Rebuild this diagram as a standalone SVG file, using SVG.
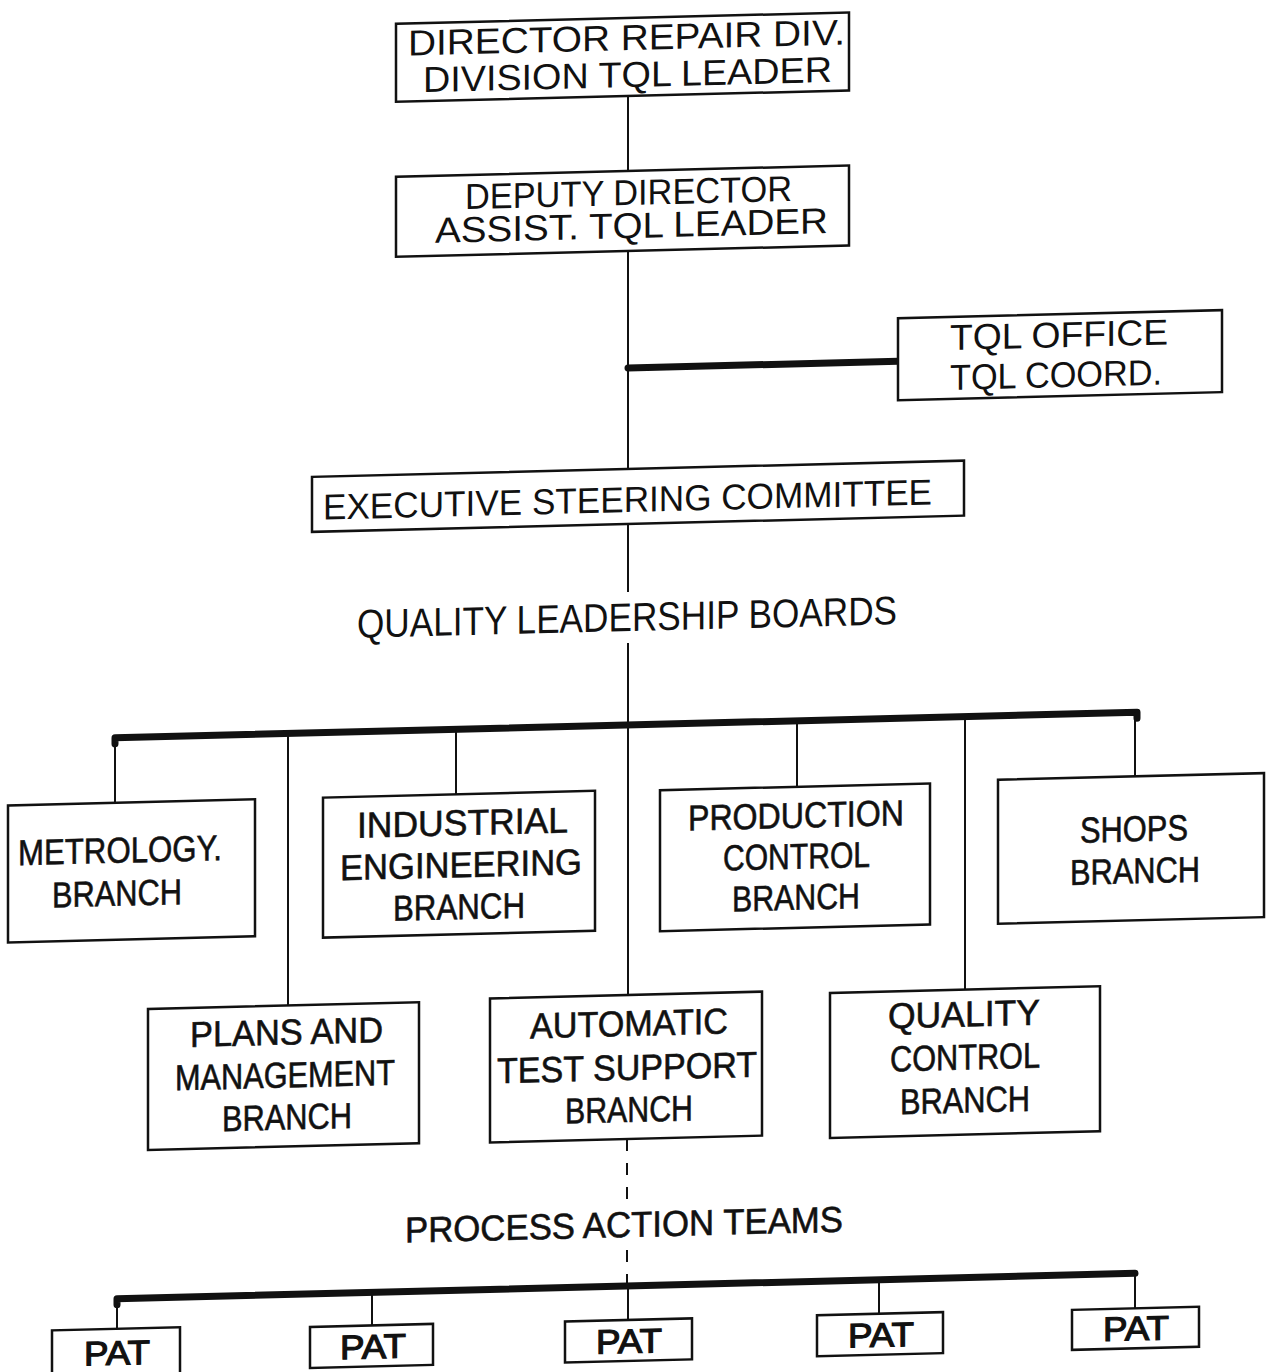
<svg xmlns="http://www.w3.org/2000/svg" width="1266" height="1372" viewBox="0 0 1266 1372">
  <style>
    .box { fill: #fff; stroke: #111; stroke-width: 2.5; }
    .ln { stroke: #111; stroke-width: 2; fill: none; }
    .bar { stroke: #111; stroke-width: 7; fill: none; stroke-linecap: round; stroke-linejoin: round; }
    .dash { stroke: #111; stroke-width: 2; fill: none; stroke-dasharray: 12 12; }
    text { font-family: "Liberation Sans", Arial, sans-serif; font-size: 36px; fill: #111; }
    .br { stroke: #111; stroke-width: 0.6; }
    .lab { font-size: 40px; }
    .pat { font-size: 34px; stroke: #111; stroke-width: 1.2; }
  </style>
  <rect width="1266" height="1372" fill="#fff"/>
  <!-- whole chart sits on a slight slant -->
  <g transform="matrix(1,-0.025,0,1,0,15.7)">
    <g id="connectors">
      <line class="ln" x1="628" y1="96" x2="628" y2="171"/>
      <line class="ln" x1="628" y1="251" x2="628" y2="469"/>
      <line class="bar" x1="628" y1="368" x2="898" y2="368"/>
      <!-- spine breaks around the board label -->
      <line class="ln" x1="628" y1="524" x2="628" y2="592"/>
      <line class="ln" x1="628" y1="643" x2="628" y2="725"/>
      <path class="bar" d="M115,731 V725 H1137 V731"/>
      <line class="ln" x1="115" y1="725" x2="115" y2="790"/>
      <line class="ln" x1="288" y1="725" x2="288" y2="997"/>
      <line class="ln" x1="456" y1="725" x2="456" y2="790"/>
      <line class="ln" x1="628" y1="725" x2="628" y2="995"/>
      <line class="ln" x1="797" y1="725" x2="797" y2="791"/>
      <line class="ln" x1="965" y1="725" x2="965" y2="998"/>
      <line class="ln" x1="1135" y1="725" x2="1135" y2="789"/>
      <!-- dashed link breaks around the team label -->
      <line class="dash" x1="627" y1="1139" x2="627" y2="1200"/>
      <line class="dash" x1="627" y1="1250" x2="627" y2="1286"/>
      <line class="ln" x1="628" y1="1286" x2="628" y2="1320"/>
      <path class="bar" d="M117,1292 V1286 H1135"/>
      <line class="ln" x1="117" y1="1286" x2="117" y2="1316"/>
      <line class="ln" x1="372" y1="1286" x2="372" y2="1319"/>
      <line class="ln" x1="879" y1="1286" x2="879" y2="1320"/>
      <line class="ln" x1="1135" y1="1286" x2="1135" y2="1321"/>
    </g>

    <g id="director">
      <rect class="box" x="396" y="18" width="453" height="78"/>
      <text x="408" y="50" textLength="437" lengthAdjust="spacingAndGlyphs">DIRECTOR REPAIR DIV.</text>
      <text x="423" y="87" textLength="409" lengthAdjust="spacingAndGlyphs">DIVISION TQL LEADER</text>
    </g>
    <g id="deputy">
      <rect class="box" x="396" y="171" width="453" height="80"/>
      <text x="465" y="205" textLength="327" lengthAdjust="spacingAndGlyphs">DEPUTY DIRECTOR</text>
      <text x="435" y="238" textLength="393" lengthAdjust="spacingAndGlyphs">ASSIST. TQL LEADER</text>
    </g>
    <g id="tql-office">
      <rect class="box" x="898" y="325" width="324" height="82"/>
      <text x="950" y="358" textLength="218" lengthAdjust="spacingAndGlyphs">TQL OFFICE</text>
      <text x="950" y="398" textLength="212" lengthAdjust="spacingAndGlyphs">TQL COORD.</text>
    </g>
    <g id="executive">
      <rect class="box" x="312" y="469" width="652" height="55"/>
      <text x="323" y="512" textLength="609" lengthAdjust="spacingAndGlyphs">EXECUTIVE STEERING COMMITTEE</text>
    </g>
    <g id="qlb-label">
      <text class="lab" x="357" y="631" textLength="540" lengthAdjust="spacingAndGlyphs">QUALITY LEADERSHIP BOARDS</text>
    </g>

    <g id="metrology">
      <rect class="box" x="8" y="790" width="247" height="137"/>
      <text class="br" x="18" y="850" textLength="204" lengthAdjust="spacingAndGlyphs">METROLOGY.</text>
      <text class="br" x="52" y="893" textLength="130" lengthAdjust="spacingAndGlyphs">BRANCH</text>
    </g>
    <g id="industrial">
      <rect class="box" x="323" y="790" width="272" height="140"/>
      <text class="br" x="357" y="831" textLength="211" lengthAdjust="spacingAndGlyphs">INDUSTRIAL</text>
      <text class="br" x="340" y="873" textLength="242" lengthAdjust="spacingAndGlyphs">ENGINEERING</text>
      <text class="br" x="393" y="915" textLength="132" lengthAdjust="spacingAndGlyphs">BRANCH</text>
    </g>
    <g id="production">
      <rect class="box" x="660" y="791" width="270" height="141"/>
      <text class="br" x="688" y="832" textLength="216" lengthAdjust="spacingAndGlyphs">PRODUCTION</text>
      <text class="br" x="723" y="873" textLength="147" lengthAdjust="spacingAndGlyphs">CONTROL</text>
      <text class="br" x="732" y="914" textLength="128" lengthAdjust="spacingAndGlyphs">BRANCH</text>
    </g>
    <g id="shops">
      <rect class="box" x="998" y="789" width="266" height="144"/>
      <text class="br" x="1080" y="854" textLength="108" lengthAdjust="spacingAndGlyphs">SHOPS</text>
      <text class="br" x="1070" y="896" textLength="130" lengthAdjust="spacingAndGlyphs">BRANCH</text>
    </g>
    <g id="plans">
      <rect class="box" x="148" y="997" width="271" height="141"/>
      <text class="br" x="190" y="1036" textLength="193" lengthAdjust="spacingAndGlyphs">PLANS AND</text>
      <text class="br" x="175" y="1079" textLength="220" lengthAdjust="spacingAndGlyphs">MANAGEMENT</text>
      <text class="br" x="222" y="1121" textLength="130" lengthAdjust="spacingAndGlyphs">BRANCH</text>
    </g>
    <g id="automatic">
      <rect class="box" x="490" y="995" width="272" height="144"/>
      <text class="br" x="530" y="1036" textLength="198" lengthAdjust="spacingAndGlyphs">AUTOMATIC</text>
      <text class="br" x="497" y="1080" textLength="260" lengthAdjust="spacingAndGlyphs">TEST SUPPORT</text>
      <text class="br" x="565" y="1122" textLength="128" lengthAdjust="spacingAndGlyphs">BRANCH</text>
    </g>
    <g id="quality">
      <rect class="box" x="830" y="998" width="270" height="145"/>
      <text class="br" x="888" y="1035" textLength="152" lengthAdjust="spacingAndGlyphs">QUALITY</text>
      <text class="br" x="890" y="1078" textLength="150" lengthAdjust="spacingAndGlyphs">CONTROL</text>
      <text class="br" x="900" y="1121" textLength="130" lengthAdjust="spacingAndGlyphs">BRANCH</text>
    </g>

    <g id="pat-label">
      <text class="br" x="405" y="1237" textLength="438" lengthAdjust="spacingAndGlyphs">PROCESS ACTION TEAMS</text>
    </g>

    <g id="pat-1">
      <rect class="box" x="52" y="1316" width="128" height="46"/>
      <text class="pat" x="84" y="1352" textLength="66" lengthAdjust="spacingAndGlyphs">PAT</text>
    </g>
    <g id="pat-2">
      <rect class="box" x="310" y="1319" width="123" height="41"/>
      <text class="pat" x="340" y="1352" textLength="66" lengthAdjust="spacingAndGlyphs">PAT</text>
    </g>
    <g id="pat-3">
      <rect class="box" x="565" y="1320" width="127" height="41"/>
      <text class="pat" x="596" y="1353" textLength="66" lengthAdjust="spacingAndGlyphs">PAT</text>
    </g>
    <g id="pat-4">
      <rect class="box" x="817" y="1320" width="126" height="41"/>
      <text class="pat" x="848" y="1353" textLength="66" lengthAdjust="spacingAndGlyphs">PAT</text>
    </g>
    <g id="pat-5">
      <rect class="box" x="1072" y="1321" width="127" height="40"/>
      <text class="pat" x="1103" y="1353" textLength="66" lengthAdjust="spacingAndGlyphs">PAT</text>
    </g>
  </g>
</svg>
